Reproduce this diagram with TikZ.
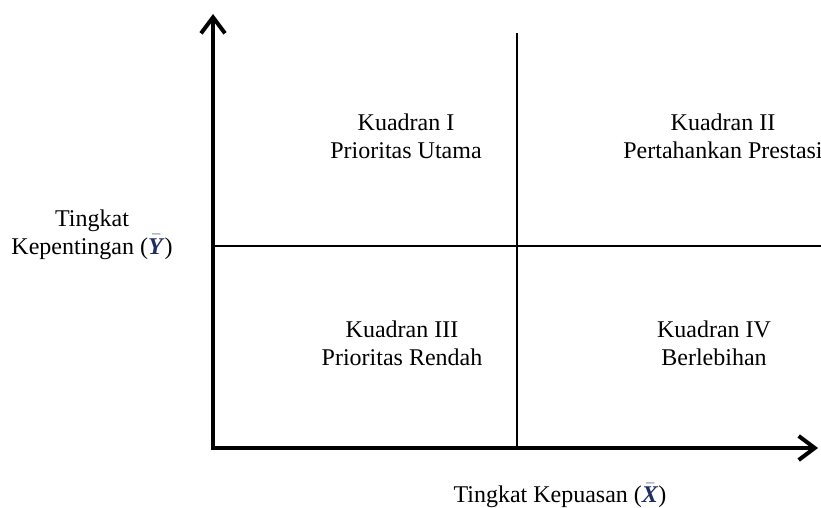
\documentclass[tikz,border=0pt]{standalone}
\usepackage{fontspec}
\setmainfont{Liberation Serif}
\usetikzlibrary{arrows.meta}
\definecolor{barcol}{RGB}{30,45,100}
\newcommand{\myYbar}{{\color{barcol}$\bar{\mbox{\textbf{\textit{Y}}}}$}}
\newcommand{\myXbar}{{\color{barcol}$\bar{\mbox{\textbf{\textit{X}}}}$}}
\begin{document}
\begin{tikzpicture}[x=1pt,y=-1pt,
  axis/.style={line width=4pt, line join=miter, -{Straight Barb[length=16pt,width=24pt]}},
  divider/.style={line width=1.6pt},
  lbl/.style={font=\fontsize{24}{28}\selectfont, align=center, inner sep=0pt, anchor=base}]
\useasboundingbox (0,0) rectangle (821,508);
\coordinate (ybot) at (213,450);
\coordinate (ytip) at (213,14);
\coordinate (xleft) at (211,448);
\coordinate (xtip) at (818,448);
\coordinate (vtop) at (517,33);
\coordinate (vbot) at (517,446);
\coordinate (hleft) at (215,246);
\coordinate (hright) at (821,246);
\draw[divider] (vtop) -- (vbot);
\draw[divider] (hleft) -- (hright);
\draw[axis] (ybot) -- (ytip);
\draw[axis] (xleft) -- (xtip);
\node[lbl] (q1) at (406,158) {Kuadran I\\Prioritas Utama};
\node[lbl] (q2) at (723,158) {Kuadran II\\Pertahankan Prestasi};
\node[lbl] (q3) at (402,365) {Kuadran III\\Prioritas Rendah};
\node[lbl] (q4) at (714,365) {Kuadran IV\\Berlebihan};
\node[lbl] (ylab) at (92,254) {Tingkat\\Kepentingan (\myYbar)};
\node[lbl] (xlab) at (560,502) {Tingkat Kepuasan (\myXbar)};
\end{tikzpicture}
\end{document}
